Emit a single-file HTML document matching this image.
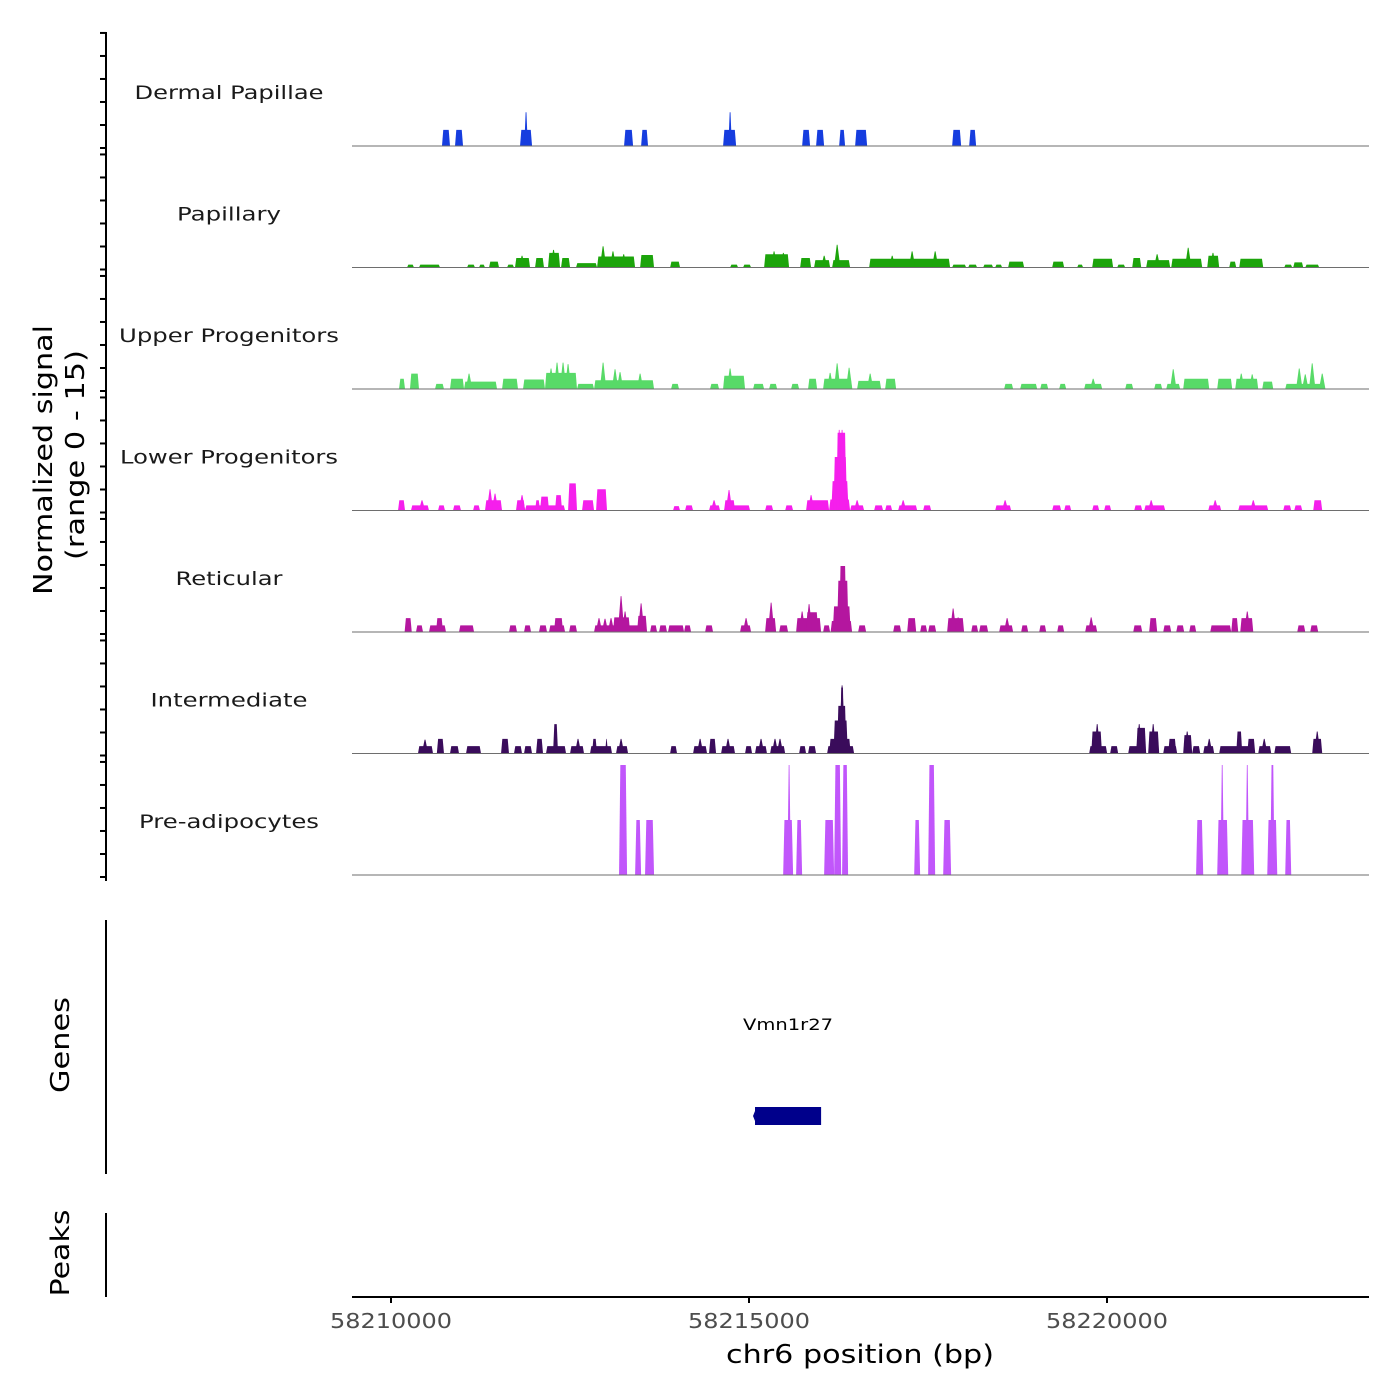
<!DOCTYPE html>
<html>
<head>
<meta charset="utf-8">
<style>
  html, body { margin: 0; padding: 0; background: #ffffff; }
  svg { display: block; font-family: "DejaVu Sans", "Liberation Sans", sans-serif; }
</style>
</head>
<body>
<svg id="chart" width="1400" height="1400" viewBox="0 0 1400 1400" xmlns="http://www.w3.org/2000/svg">
  <rect x="0" y="0" width="1400" height="1400" fill="#ffffff"/>
  <g id="tracks"></g>
  <g id="yaxis">
    <line x1="106" y1="32" x2="106" y2="881" stroke="#000" stroke-width="2"/>
  </g>
  <text transform="translate(52,460) rotate(-90)" text-anchor="middle" font-size="26" textLength="270" lengthAdjust="spacingAndGlyphs" fill="#000">Normalized signal</text>
  <text transform="translate(84,455) rotate(-90)" text-anchor="middle" font-size="26" textLength="210" lengthAdjust="spacingAndGlyphs" fill="#000">(range 0 - 15)</text>

  <g>
    <line x1="106" y1="920" x2="106" y2="1174" stroke="#000" stroke-width="2"/>
    <text transform="translate(69,1045) rotate(-90)" text-anchor="middle" font-size="26" textLength="96" lengthAdjust="spacingAndGlyphs" fill="#000">Genes</text>
    <g id="genes"></g>
  </g>

  <g>
    <line x1="106" y1="1213" x2="106" y2="1297" stroke="#000" stroke-width="2"/>
    <text transform="translate(69,1253) rotate(-90)" text-anchor="middle" font-size="26" textLength="87" lengthAdjust="spacingAndGlyphs" fill="#000">Peaks</text>
  </g>

  <g id="xaxis">
    <line x1="352" y1="1297" x2="1369" y2="1297" stroke="#000" stroke-width="2"/>
  </g>
  <text x="860" y="1363" text-anchor="middle" font-size="26" textLength="268" lengthAdjust="spacingAndGlyphs" fill="#000">chr6 position (bp)</text>
</svg>
<script>
// ---- data (positions are bp offsets from 58,210,000; heights in normalized signal) ----
const regionStart = 58210000;
const xTickValues = [58210000, 58215000, 58220000];
const xTickLabels = ["58210000", "58215000", "58220000"];
const trackNames = ["Dermal Papillae","Papillary","Upper Progenitors","Lower Progenitors","Reticular","Intermediate","Pre-adipocytes"];
const trackColors = ["#163ddf","#1ca40b","#58da68","#f51fec","#b4169f","#3a0c5b","#c156fb"];

const dermalBlocks = [[712,824,2.2],[894,1006,2.2],[1802,1970,2.2],[3255,3381,2.2],[3493,3590,2.2],[4638,4820,2.2],[5742,5853,2.2],[5937,6049,2.2],[6259,6342,2.2],[6482,6650,2.2],[7837,7963,2.2],[8075,8172,2.2]];
const dermalPeaks = [[1886,4.6],[4736,4.6]];

const papillaryBlocks = [[224,321,.4],[391,685,.4],[1062,1173,.4],[1229,1313,.4],[1369,1509,.8],[1621,1718,.4],[1732,1942,1.3],[2012,2137,1.3],[2193,2361,2.0],[2375,2501,1.3],[2584,2878,.6],[2878,3409,1.5],[3479,3674,1.7],[3898,4037,.8],[4736,4848,.4],[4917,5029,.4],[5211,5560,1.8],[5714,5867,1.3],[5909,6133,1.0],[6161,6412,1.0],[6678,7809,1.2],[7837,8033,.4],[8061,8186,.4],[8270,8410,.4],[8438,8536,.4],[8619,8843,.8],[9234,9402,.8],[9583,9667,.4],[9793,10086,1.2],[10142,10254,.4],[10352,10478,1.3],[10547,10883,1.0],[10897,11330,1.2],[11400,11567,1.6],[11707,11805,.8],[11847,12182,1.2],[12475,12587,.4],[12601,12741,.7],[12769,12964,.4]];
const papillaryPeaks = [[2962,2.9],[3100,2.2],[3250,1.8],[5350,2.2],[5480,2.0],[6231,3.1],[6050,1.6],[7278,2.2],[7600,2.2],[7000,1.6],[11134,2.7],[10700,1.8],[11480,2.0],[2270,2.4],[1830,1.6]];

const upperBlocks = [[112,196,1.4],[265,391,2.1],[615,740,.7],[824,1020,1.4],[1020,1481,1.0],[1551,1774,1.4],[1844,2151,1.3],[2151,2598,2.2],[2598,2836,.7],[2836,3674,1.2],[3912,4023,.7],[4456,4582,.7],[4638,4945,1.8],[5057,5211,.7],[5281,5393,.7],[5588,5700,.7],[5825,5951,1.4],[6035,6440,1.4],[6510,6845,1.1],[6901,7055,1.4],[8563,8689,.7],[8787,9025,.7],[9067,9179,.7],[9332,9430,.7],[9681,9933,.7],[10254,10366,.7],[10659,10771,.7],[10827,11022,.7],[11064,11428,1.4],[11539,11749,1.4],[11791,12112,1.4],[12168,12322,1.0],[12489,13020,.7]];
const upperPeaks = [[1090,2.1],[2235,2.8],[2319,3.6],[2403,3.6],[2473,3.4],[2962,3.6],[3129,2.7],[3199,2.3],[3479,2.1],[4736,2.8],[6133,2.2],[6231,3.5],[6398,2.9],[6692,2.1],[9807,1.4],[10925,2.7],[11875,2.1],[12028,2.0],[12685,2.8],[12769,2.0],[12866,3.5],[13006,2.1]];

const lowerBlocks = [[98,196,1.4],[279,531,.7],[657,754,.7],[866,978,.7],[1146,1243,.7],[1313,1551,1.4],[1746,1872,1.4],[1872,2431,.7],[2012,2082,1.4],[2082,2207,1.9],[2291,2389,2.1],[2473,2598,3.7],[2668,2836,1.4],[2864,3017,2.9],[3939,4037,.6],[4107,4219,.7],[4442,4596,.7],[4652,5015,.7],[4652,4805,1.4],[5225,5337,.7],[5505,5616,.7],[5797,6119,1.4],[6119,6412,1.5],[6150,6390,4.0],[6180,6370,7.3],[6220,6360,10.6],[6412,6608,.7],[6747,6873,.7],[6901,6999,.7],[7083,7349,.7],[7432,7544,.7],[8438,8661,.7],[9234,9360,.7],[9402,9500,.7],[9793,9891,.7],[9960,10058,.7],[10380,10492,.7],[10520,10813,.7],[11414,11595,.7],[11833,12252,.7],[12461,12573,.7],[12615,12727,.7],[12880,13006,1.4]];
const lowerPeaks = [[433,1.4],[1383,2.9],[1453,2.3],[1830,2.1],[4512,1.4],[4721,2.8],[5867,2.1],[6260,11.0],[6300,11.0],[6510,1.4],[7153,1.4],[8577,1.4],[10617,1.4],[11511,1.4],[12043,1.4]];

const reticularBlocks = [[190,290,1.9],[349,447,.9],[531,768,.9],[629,726,1.9],[950,1160,.9],[1648,1760,.9],[1858,1956,.9],[2067,2179,.9],[2207,2431,.9],[2277,2403,1.9],[2487,2598,.9],[2836,3576,.9],[3101,3339,2.0],[3437,3576,2.2],[3618,3716,.9],[3744,3855,.9],[3869,4093,.9],[4093,4191,.9],[4387,4498,.9],[4875,5029,.9],[5225,5379,1.9],[5421,5546,.9],[5658,6007,1.9],[5797,5965,2.7],[6035,6133,.9],[6140,6440,1.5],[6170,6420,3.5],[6230,6390,7.0],[6260,6360,9.0],[6524,6636,.9],[7013,7125,.9],[7209,7335,1.9],[7390,7488,.9],[7502,7614,.9],[7767,8004,1.9],[8103,8200,.9],[8214,8340,.9],[8494,8689,.9],[8801,8899,.9],[9053,9151,.9],[9304,9402,.9],[9695,9863,.9],[10366,10492,.9],[10589,10701,1.9],[10785,10897,.9],[10967,11078,.9],[11148,11246,.9],[11442,11735,.9],[11735,11833,1.9],[11861,12043,1.9],[12657,12769,.9],[12838,12950,.9]];
const reticularPeaks = [[2905,1.9],[2989,1.8],[3073,1.9],[3213,4.9],[3269,2.8],[3493,3.9],[4959,1.9],[5309,4.0],[5742,2.8],[5839,3.8],[7851,3.2],[7921,2.0],[8605,1.9],[9779,2.0],[11959,2.8]];

const intermediateBlocks = [[377,587,1.0],[640,740,2.0],[824,950,1.0],[1048,1257,1.0],[1537,1648,2.0],[1718,1830,1.0],[1858,1970,1.0],[2026,2123,2.0],[2165,2445,1.0],[2263,2333,4.0],[2501,2696,1.0],[2780,3087,1.0],[2808,2877,2.0],[2989,3031,2.0],[3143,3311,1.0],[3898,3995,1.0],[4219,4414,1.0],[4442,4540,2.0],[4610,4805,1.0],[4945,5043,1.0],[5084,5251,1.0],[5295,5505,1.0],[5700,5797,1.0],[5825,5937,1.0],[6091,6468,1.0],[6120,6420,2.0],[6180,6380,4.5],[6230,6360,6.5],[6270,6330,9.0],[9751,10002,1.0],[9780,9930,3.0],[10044,10156,1.0],[10296,10547,1.0],[10408,10547,3.5],[10575,10729,3.0],[10785,10980,1.0],[10855,10967,2.0],[11064,11190,2.5],[11190,11302,1.0],[11344,11497,1.0],[11567,12070,1.0],[11805,11889,3.0],[11959,12070,2.0],[12112,12294,1.0],[12336,12573,1.0],[12866,13006,2.0]];
const intermediatePeaks = [[475,1.9],[2612,2.0],[3213,2.0],[4317,2.0],[4707,2.0],[5168,2.0],[5363,2.0],[5433,2.0],[6300,9.3],[9863,4.0],[10450,4.0],[10645,4.0],[11120,3.0],[11428,2.0],[12196,2.0],[12936,3.0]];

const preadipBlocks = [[3185,3297,15],[3409,3493,7.5],[3548,3674,7.5],[5477,5616,7.5],[5658,5742,7.5],[6049,6189,7.5],[6189,6287,15],[6300,6384,15],[7307,7390,7.5],[7502,7600,15],[7712,7823,7.5],[11244,11344,7.5],[11539,11693,7.5],[11875,12056,7.5],[12238,12378,7.5],[12280,12340,15],[12489,12573,7.5]];
const preadipPeaks = [[5560,15],[11609,15],[11959,15]];

const geneNames = ["Vmn1r27"];
const geneStarts = [58215084];
const geneEnds = [58216007];

// ---- scales ----
const NS = "http://www.w3.org/2000/svg";
const X0 = 391, PX_PER_BP = 358 / 5000;
function xScale(bp) { return X0 + (bp - regionStart) * PX_PER_BP; }
function xOff(off) { return xScale(regionStart + off); }
const trackBaselines = [146, 267.5, 389, 510.5, 632, 753.5, 875];
const PX_PER_UNIT = 7.33;
function yScale(track, v) { return trackBaselines[track] - v * PX_PER_UNIT; }

const allBlocks = [dermalBlocks, papillaryBlocks, upperBlocks, lowerBlocks, reticularBlocks, intermediateBlocks, preadipBlocks];
const allPeaks = [dermalPeaks, papillaryPeaks, upperPeaks, lowerPeaks, reticularPeaks, intermediatePeaks, preadipPeaks];
const labelWidths = [189, 104, 220, 218, 107, 157, 180];

const tracksG = document.getElementById('tracks');
for (let t = 0; t < trackNames.length; t++) {
  const g = document.createElementNS(NS, 'g');
  
  
  const base = trackBaselines[t];
  const color = trackColors[t];
  const taperBp = 18;
  allBlocks[t].forEach(b => {
    const x1 = xOff(b[0]), x2 = xOff(b[1]);
    const tp = taperBp * PX_PER_BP;
    const y = yScale(t, b[2]);
    const p = document.createElementNS(NS, 'polygon');
    p.setAttribute('points', `${x1},${base} ${x1 + tp},${y} ${x2 - tp},${y} ${x2},${base}`);
    p.setAttribute('fill', color);
    
    
    g.appendChild(p);
  });
  const hw = (t === 6 || t === 0) ? 25 : 45;
  allPeaks[t].forEach(pk => {
    const xc = xOff(pk[0]);
    const w = hw * PX_PER_BP;
    const y = yScale(t, pk[1]);
    const p = document.createElementNS(NS, 'polygon');
    p.setAttribute('points', `${xc - w},${base} ${xc - 0.4},${y} ${xc + 0.4},${y} ${xc + w},${base}`);
    p.setAttribute('fill', color);
    
    
    g.appendChild(p);
  });
  const bl = document.createElementNS(NS, 'line');
  bl.setAttribute('x1', 352); bl.setAttribute('x2', 1369);
  bl.setAttribute('y1', base); bl.setAttribute('y2', base);
  bl.setAttribute('stroke', '#6e6e6e'); bl.setAttribute('stroke-width', '1');
  
  
  g.appendChild(bl);
  const lab = document.createElementNS(NS, 'text');
  lab.setAttribute('x', 229); lab.setAttribute('y', base - 47);
  lab.setAttribute('text-anchor', 'middle');
  lab.setAttribute('font-size', '19');
  lab.setAttribute('fill', '#1a1a1a');
  lab.setAttribute('textLength', labelWidths[t]);
  lab.setAttribute('lengthAdjust', 'spacingAndGlyphs');
  lab.textContent = trackNames[t];
  
  
  g.appendChild(lab);
  tracksG.appendChild(g);
}

// y-axis ticks per track (0..15 in 5 steps)
const yaxisG = document.getElementById('yaxis');
const yTickValues = [0, 3, 6, 9, 12, 15];
for (let t = 0; t < trackNames.length; t++) {
  yTickValues.forEach(v => {
    const y = trackBaselines[t] + 2 - v * 7.67;
    const l = document.createElementNS(NS, 'line');
    l.setAttribute('x1', 100); l.setAttribute('x2', 106);
    l.setAttribute('y1', y); l.setAttribute('y2', y);
    l.setAttribute('stroke', '#000'); l.setAttribute('stroke-width', '2');
    
    
    yaxisG.appendChild(l);
  });
}

// genes
const genesG = document.getElementById('genes');
geneNames.forEach((name, i) => {
  const x1 = xScale(geneStarts[i]), x2 = xScale(geneEnds[i]);
  const r = document.createElementNS(NS, 'rect');
  r.setAttribute('x', x1); r.setAttribute('y', 1107);
  r.setAttribute('width', x2 - x1); r.setAttribute('height', 18);
  r.setAttribute('fill', '#00008b');
  
  
  genesG.appendChild(r);
  const a = document.createElementNS(NS, 'polygon');
  a.setAttribute('points', `${x1},1111 ${x1 - 2},1116 ${x1},1121`);
  a.setAttribute('fill', '#00008b');
  
  
  genesG.appendChild(a);
  const tx = document.createElementNS(NS, 'text');
  tx.setAttribute('x', (x1 + x2) / 2); tx.setAttribute('y', 1030);
  tx.setAttribute('text-anchor', 'middle'); tx.setAttribute('font-size', '16');
  tx.setAttribute('textLength', '90'); tx.setAttribute('lengthAdjust', 'spacingAndGlyphs');
  tx.setAttribute('fill', '#000');
  tx.textContent = name;
  
  
  genesG.appendChild(tx);
});

// x-axis ticks
const xaxisG = document.getElementById('xaxis');
xTickValues.forEach((v, i) => {
  const x = xScale(v);
  const l = document.createElementNS(NS, 'line');
  l.setAttribute('x1', x); l.setAttribute('x2', x);
  l.setAttribute('y1', 1297); l.setAttribute('y2', 1303);
  l.setAttribute('stroke', '#000'); l.setAttribute('stroke-width', '2');
  
  
  xaxisG.appendChild(l);
  const tx = document.createElementNS(NS, 'text');
  tx.setAttribute('x', x); tx.setAttribute('y', 1328);
  tx.setAttribute('text-anchor', 'middle'); tx.setAttribute('font-size', '20');
  tx.setAttribute('textLength', '122'); tx.setAttribute('lengthAdjust', 'spacingAndGlyphs');
  tx.setAttribute('fill', '#4d4d4d');
  tx.textContent = xTickLabels[i];
  
  
  xaxisG.appendChild(tx);
});
</script>
</body>
</html>
